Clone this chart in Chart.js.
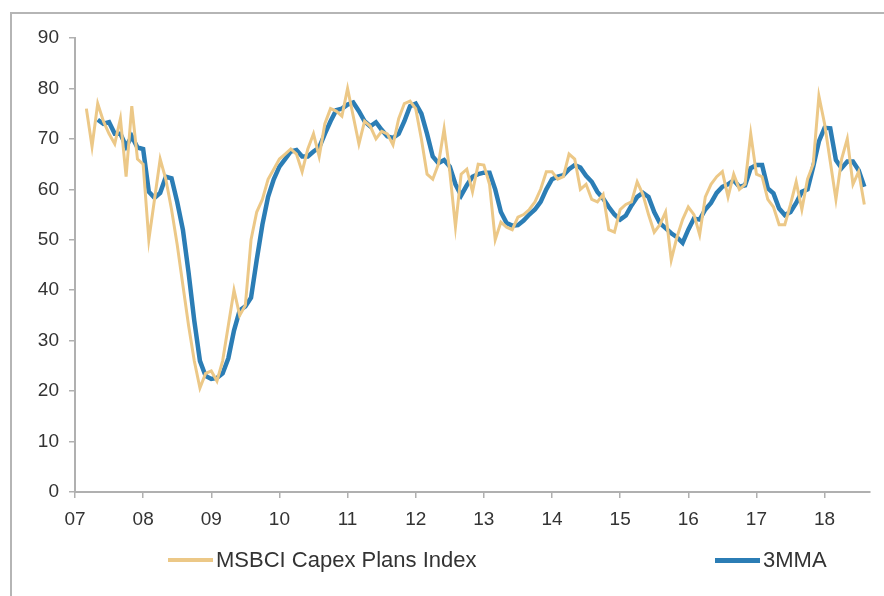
<!DOCTYPE html>
<html>
<head>
<meta charset="utf-8">
<script src="https://cdn.jsdelivr.net/npm/chart.js@4.4.1/dist/chart.umd.min.js"></script>
<style>
  html, body { margin: 0; padding: 0; background: #fff; }
  #wrap { position: relative; width: 884px; height: 596px; overflow: hidden; }
  #frame { position: absolute; left: 10px; top: 12px; width: 900px; height: 620px; border-left: 2px solid #b5b5b5; border-top: 2px solid #b5b5b5; }
  canvas { position: absolute; left: 0; top: 0; }
  .legend { position: absolute; top: 547px; font: 22px "Liberation Sans", Arial, sans-serif; color: #333; display: flex; align-items: center; white-space: nowrap; }
  .legend span.sw { display: inline-block; width: 45px; margin-right: 3px; }
</style>
</head>
<body>
<div id="wrap">
  <div id="frame"></div>
  <canvas id="chart" width="884" height="596"></canvas>
  <div class="legend" style="left:168px"><span class="sw" style="height:4px;background:#ecc887"></span>MSBCI Capex Plans Index</div>
  <div class="legend" style="left:715px"><span class="sw" style="height:5px;background:#2b7db5"></span>3MMA</div>
</div>
<script>
// months counted from Jan 2007 (0 = Jan 07)
const yearLabels = ["07", "08", "09", "10", "11", "12", "13", "14", "15", "16", "17", "18"];
const yTicks = [0, 10, 20, 30, 40, 50, 60, 70, 80, 90];

// MSBCI Capex Plans Index, monthly from Mar 2007
const indexStart = 2;
const indexValues = [
  76, 68.5, 77, 73.5, 71, 69, 74, 62.5, 76.5, 66,
  65, 50, 58, 66, 62, 56, 49, 41, 33, 26, 20.6, 23.5,
  24, 22, 26, 33, 40, 35, 37, 50, 55.5, 58, 62, 64,
  66, 67, 68, 67, 63.5, 68, 71, 66.5, 73, 76, 75.5, 74.5,
  80, 74.5, 69, 73.5, 72.5, 70, 71.5, 71, 68.8, 74, 77, 77.5,
  76, 70, 63, 62, 65, 72, 63.5, 52.6, 63, 64, 59.5, 65,
  64.8, 61, 50, 53.5, 52.5, 52, 54.5, 55, 56, 57.5, 60, 63.5,
  63.5, 62, 62.5, 67, 66, 60, 61, 58, 57.5, 59, 52, 51.5,
  56, 57, 57.5, 61.5, 59, 55, 51.5, 53, 55.5, 46, 50.5, 54,
  56.5, 55, 51, 58.5, 61, 62.5, 63.5, 58.5, 63, 60, 61, 71,
  63, 62.5, 58, 56.5, 53, 53, 57, 61.5, 56, 62, 65, 78.5,
  73, 65.5, 58, 66, 70, 61, 63.5, 57
];

// 3-month moving average, monthly from May 2007
const mmaStart = 4;
const mmaValues = [
  73.8, 73, 73.3, 71, 71, 68.5, 70.5, 68.3,
  68, 59.5, 58.3, 59.3, 62.5, 62.2, 57.5, 52, 43.5, 34, 26, 23,
  22.4, 22.6, 23.5, 26.5, 32, 36, 36.8, 38.5, 46, 53, 58.5, 62,
  64.5, 66, 67.5, 67.8, 66.5, 66.5, 67.5, 68.3, 71, 73.5, 75.7, 76,
  76.8, 77.2, 75.5, 73.5, 72.5, 73.3, 71.8, 70.5, 70.2, 71, 73.5, 76.5,
  77, 75, 71, 66.5, 65.2, 65.8, 64.5, 61, 58.8, 60.8, 62.5, 63,
  63.3, 63.3, 60, 55.5, 53.3, 52.8, 52.9, 53.8, 55, 56, 57.5, 60,
  62, 62.5, 62.8, 64, 64.8, 64.3, 62.7, 61.5, 59.5, 58.2, 56.5, 55,
  54, 54.8, 56.8, 58.5, 59.3, 58.5, 55.5, 53.3, 52.3, 51.3, 50.5, 49.4,
  52, 54.2, 54, 56, 57.3, 59.3, 60.5, 61, 61.8, 60.5, 60.8, 64.2,
  64.8, 64.8, 60.2, 59.2, 56.2, 54.9, 55.5, 57.3, 59.5, 60, 64.5, 69.5,
  72.2, 72.1, 65.8, 64.2, 65.5, 65.5, 63.8, 60.5
];

const toPoints = (start, values) => values.map((v, i) => ({ x: start + i, y: v }));

const axisGrey = "#b0b0b0";
const tickFont = { family: "'Liberation Sans', Arial, sans-serif", size: 19 };

new Chart(document.getElementById("chart"), {
  type: "line",
  data: {
    datasets: [
      {
        label: "MSBCI Capex Plans Index",
        data: toPoints(indexStart, indexValues),
        borderColor: "#ecc887",
        borderWidth: 3,
        pointRadius: 0,
        tension: 0
      },
      {
        label: "3MMA",
        data: toPoints(mmaStart, mmaValues),
        borderColor: "#2b7db5",
        borderWidth: 4.5,
        pointRadius: 0,
        tension: 0
      }
    ]
  },
  options: {
    responsive: false,
    animation: false,
    layout: { padding: { top: 38, right: 14, bottom: 64, left: 0 } },
    plugins: { legend: { display: false }, tooltip: { enabled: false } },
    scales: {
      x: {
        type: "linear",
        min: 0,
        max: 140,
        afterFit: s => { s.height = 40; },
        afterBuildTicks: s => { s.ticks = yearLabels.map((_, i) => ({ value: i * 12 })); },
        ticks: {
          autoSkip: false,
          maxRotation: 0,
          padding: 10,
          color: "#333",
          font: tickFont,
          callback: v => yearLabels[v / 12]
        },
        grid: { drawOnChartArea: false, tickLength: 6, color: axisGrey, lineWidth: 1.5 },
        border: { color: axisGrey, width: 2 }
      },
      y: {
        min: 0,
        max: 90,
        afterFit: s => { s.width = 75; },
        afterBuildTicks: s => { s.ticks = yTicks.map(v => ({ value: v })); },
        ticks: { color: "#333", font: tickFont, padding: 10 },
        grid: { drawOnChartArea: false, tickLength: 6, color: axisGrey, lineWidth: 1.5 },
        border: { color: axisGrey, width: 2 }
      }
    }
  }
});
</script>
</body>
</html>
